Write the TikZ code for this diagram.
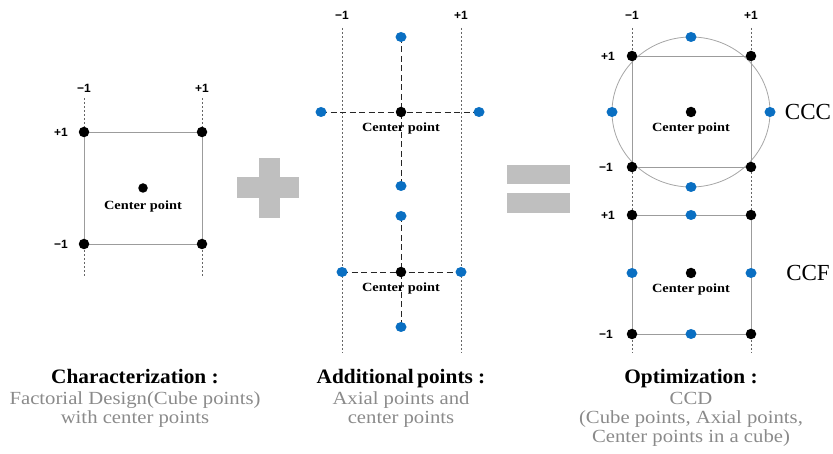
\documentclass[tikz,border=0pt]{standalone}
\usepackage{fontspec}
\setmainfont{Liberation Serif}
\newfontfamily\grayfont[FakeStretch=1.12]{Liberation Serif}
\newfontfamily\headfont[FakeStretch=1.04]{Liberation Serif}
\newfontfamily\cpfont[FakeStretch=1.15]{Liberation Serif}
\newfontfamily\numfont{Liberation Sans}
\usetikzlibrary{shapes.geometric}
\definecolor{dotblue}{HTML}{0A6FC2}
\definecolor{edgegray}{HTML}{9C9C9C}
\definecolor{txtgray}{HTML}{8A8A8A}
\definecolor{signgray}{HTML}{BFBFBF}
\begin{document}
\begin{tikzpicture}[x=1pt,y=-1pt,
  bdot/.style={circle,fill=black,inner sep=0pt,minimum size=10.5pt},
  udot/.style={ellipse,fill=dotblue,inner sep=0pt,minimum width=11pt,minimum height=10pt},
  guide/.style={draw=black!60,line width=0.5pt,dash pattern=on 2pt off 2pt},
  edge/.style={draw=edgegray,line width=0.8pt},
  axisdash/.style={draw=black!85,line width=0.8pt,dash pattern=on 6pt off 3.5pt},
  tick/.style={font=\numfont\bfseries\fontsize{12}{12}\selectfont,inner sep=0pt},
  cplabel/.style={font=\cpfont\bfseries\fontsize{12.5}{13}\selectfont,inner sep=0pt},
  head/.style={font=\headfont\bfseries\fontsize{20.5}{21}\selectfont,anchor=base,inner sep=0pt},
  graytxt/.style={font=\grayfont\fontsize{18.5}{19}\selectfont,text=txtgray,anchor=base,inner sep=0pt},
  bigname/.style={font=\fontsize{23}{23}\selectfont,inner sep=0pt}]
\useasboundingbox (0,0) rectangle (833,454);

% ---------- Panel 1: factorial design ----------
\coordinate (g1t) at (84,98);  \coordinate (g1b) at (84,277);
\coordinate (g2t) at (202,98); \coordinate (g2b) at (202,277);
\draw[guide] (g1t) -- (g1b);
\draw[guide] (g2t) -- (g2b);
\node[tick] (t1m) at (84,88) {−1};
\node[tick] (t1p) at (202,88) {+1};
\node[tick] (l1p) at (61,132) {+1};
\node[tick] (l1m) at (61,244) {−1};
\coordinate (p1) at (84,132);
\coordinate (p2) at (202,132);
\coordinate (p3) at (84,244);
\coordinate (p4) at (202,244);
\draw[edge] (p1) -- (p2) -- (p4) -- (p3) -- cycle;
\node[bdot] (a1) at (p1) {};
\node[bdot] (a2) at (p2) {};
\node[bdot] (a3) at (p3) {};
\node[bdot] (a4) at (p4) {};
\node[bdot,minimum size=9.5pt] (ac) at (143,188) {};
\node[cplabel] (acl) at (143,206) {Center point};

% plus sign
\fill[signgray] (259,158) rectangle (280,218);
\fill[signgray] (237,177) rectangle (299,198);

% ---------- Panel 2: axial points ----------
\coordinate (h1t) at (342,28); \coordinate (h1b) at (342,353);
\coordinate (h2t) at (461,28); \coordinate (h2b) at (461,353);
\draw[guide] (h1t) -- (h1b);
\draw[guide] (h2t) -- (h2b);
\node[tick] (t2m) at (342,15) {−1};
\node[tick] (t2p) at (461,15) {+1};
\coordinate (b1t) at (401,37);
\coordinate (b1b) at (401,186);
\coordinate (b1l) at (321,112);
\coordinate (b1r) at (479,112);
\coordinate (b2t) at (401,216);
\coordinate (b2b) at (401,327);
\coordinate (b2l) at (342,272);
\coordinate (b2r) at (461,272);
\draw[axisdash] (b1t) -- (b1b);
\draw[axisdash] (b1l) -- (b1r);
\draw[axisdash] (b2t) -- (b2b);
\draw[axisdash] (b2l) -- (b2r);
\node[udot] (bt1) at (b1t) {};
\node[udot] (bb1) at (b1b) {};
\node[udot] (bl1) at (b1l) {};
\node[udot] (br1) at (b1r) {};
\node[bdot] (bc1) at (401,112) {};
\node[udot] (bt2) at (b2t) {};
\node[udot] (bb2) at (b2b) {};
\node[udot] (bl2) at (b2l) {};
\node[udot] (br2) at (b2r) {};
\node[bdot] (bc2) at (401,272) {};
\node[cplabel] (bcl1) at (401,128) {Center point};
\node[cplabel] (bcl2) at (401,288) {Center point};

% equals sign
\fill[signgray] (507,165) rectangle (570,184);
\fill[signgray] (507,193) rectangle (570,213);

% ---------- Panel 3: CCD ----------
\coordinate (k1t) at (632,28); \coordinate (k1b) at (632,353);
\coordinate (k2t) at (751,28); \coordinate (k2b) at (751,353);
\draw[guide] (k1t) -- (k1b);
\draw[guide] (k2t) -- (k2b);
\node[tick] (t3m) at (632,15) {−1};
\node[tick] (t3p) at (751,15) {+1};
% CCC
\draw[draw=black!35,line width=0.8pt] (691,112) ellipse [x radius=79, y radius=75];
\coordinate (c1) at (632,56);
\coordinate (c2) at (751,56);
\coordinate (c3) at (632,167);
\coordinate (c4) at (751,167);
\draw[edge] (c1) -- (c2) -- (c4) -- (c3) -- cycle;
\node[bdot] (cc1) at (c1) {};
\node[bdot] (cc2) at (c2) {};
\node[bdot] (cc3) at (c3) {};
\node[bdot] (cc4) at (c4) {};
\node[udot] (cat) at (691,37) {};
\node[udot] (cab) at (691,187) {};
\node[udot] (cal) at (612,112) {};
\node[udot] (car) at (770,112) {};
\node[bdot] (ccc) at (691,112) {};
\node[cplabel] (ccl) at (691,128) {Center point};
\node[tick] (l3p) at (608,56) {+1};
\node[tick] (l3m) at (606,167) {−1};
\node[bigname] (nccc) at (808,112) {CCC};
% CCF
\coordinate (f1) at (632,215);
\coordinate (f2) at (751,215);
\coordinate (f3) at (632,334);
\coordinate (f4) at (751,334);
\draw[edge] (f1) -- (f2) -- (f4) -- (f3) -- cycle;
\node[bdot] (fc1) at (f1) {};
\node[bdot] (fc2) at (f2) {};
\node[bdot] (fc3) at (f3) {};
\node[bdot] (fc4) at (f4) {};
\node[udot] (fat) at (691,215) {};
\node[udot] (fab) at (691,334) {};
\node[udot] (fal) at (632,273) {};
\node[udot] (far) at (751,273) {};
\node[bdot] (fcc) at (691,273) {};
\node[cplabel] (fcl) at (691,289) {Center point};
\node[tick] (l4p) at (608,215) {+1};
\node[tick] (l4m) at (606,334) {−1};
\node[bigname] (nccf) at (808,273) {CCF};

% ---------- captions ----------
\node[head] (h1) at (135,384) {Characterization :};
\node[graytxt] (g11) at (135,404) {Factorial Design(Cube points)};
\node[graytxt] (g12) at (135,423) {with center points};

\node[head] (h2) at (401,384) {Additional\,points :};
\node[graytxt] (g21) at (401,404) {Axial points and};
\node[graytxt] (g22) at (401,423) {center points};

\node[head] (h3) at (691,384) {Optimization :};
\node[graytxt] (g31) at (691,404) {CCD};
\node[graytxt] (g32) at (691,423) {(Cube points, Axial points,};
\node[graytxt] (g33) at (691,442) {Center points in a cube)};
\end{tikzpicture}
\end{document}
